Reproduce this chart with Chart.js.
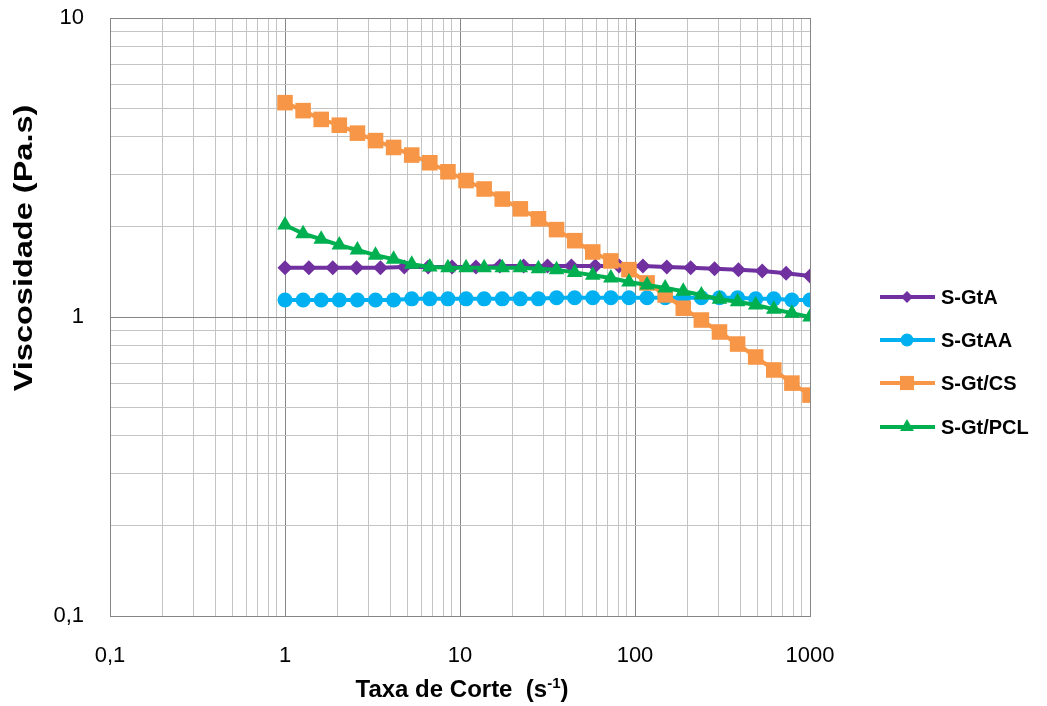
<!DOCTYPE html>
<html><head><meta charset="utf-8">
<script src="https://cdn.jsdelivr.net/npm/chart.js@4.4.1/dist/chart.umd.min.js"></script>
<style>html,body{margin:0;padding:0;background:#fff;}#wrap{width:1047px;height:706px;}</style>
</head><body><div id="wrap"><canvas id="c" width="1047" height="706"></canvas></div>
<script>
// ---- data ----
const seriesNames = ['S-GtA', 'S-GtAA', 'S-Gt/CS', 'S-Gt/PCL'];
const shearRateA = [1, 1.369, 1.874, 2.565, 3.511, 4.806, 6.579, 9.006, 12.33, 16.88, 23.10, 31.62, 43.29, 59.25, 81.11, 111.0, 152.0, 208.1, 284.8, 389.9, 533.7, 730.5, 1000];
const shearRate = [1, 1.269, 1.610, 2.043, 2.593, 3.290, 4.175, 5.298, 6.723, 8.532, 10.83, 13.74, 17.43, 22.12, 28.07, 35.62, 45.20, 57.36, 72.79, 92.37, 117.2, 148.7, 188.7, 239.5, 303.9, 385.7, 489.4, 621.0, 788.0, 1000];
const viscGtA = [1.46, 1.46, 1.46, 1.46, 1.46, 1.47, 1.47, 1.47, 1.47, 1.48, 1.48, 1.48, 1.48, 1.48, 1.48, 1.48, 1.47, 1.46, 1.45, 1.44, 1.425, 1.40, 1.37];
const viscGtAA = [1.14, 1.14, 1.14, 1.14, 1.14, 1.14, 1.14, 1.15, 1.15, 1.15, 1.15, 1.15, 1.15, 1.15, 1.15, 1.16, 1.16, 1.16, 1.16, 1.16, 1.16, 1.16, 1.16, 1.16, 1.16, 1.16, 1.15, 1.15, 1.14, 1.14];
const viscGtCS = [5.21, 4.90, 4.58, 4.38, 4.12, 3.89, 3.69, 3.48, 3.28, 3.06, 2.86, 2.68, 2.48, 2.30, 2.13, 1.96, 1.80, 1.65, 1.54, 1.44, 1.30, 1.185, 1.07, 0.977, 0.891, 0.812, 0.735, 0.665, 0.601, 0.548];
const viscGtPCL = [2.03, 1.90, 1.82, 1.74, 1.675, 1.61, 1.56, 1.50, 1.47, 1.46, 1.46, 1.46, 1.46, 1.46, 1.45, 1.44, 1.41, 1.38, 1.35, 1.31, 1.28, 1.25, 1.22, 1.185, 1.146, 1.125, 1.097, 1.061, 1.03, 1.0];
const xTickValues = [0.1, 1, 10, 100, 1000];
const xTickLabels = ['0,1', '1', '10', '100', '1000'];
const yTickValues = [0.1, 1, 10];
const yTickLabels = ['0,1', '1', '10'];
const xTitle = ['Taxa de Corte  (s', '-1', ')'];
const yTitle = 'Viscosidade (Pa.s)';

// ---- styling ----
const colors = ['#7030A0', '#00B0F0', '#F79646', '#00B050'];
const pointStyles = ['rectRot', 'circle', 'rect', 'triangle'];
const pointRadii = [7.5, 7.5, 11, 9];
const FONT = '"Liberation Sans", Arial, sans-serif';

function pairs(xs, ys) { return ys.map((y, i) => ({ x: xs[i], y: y })); }
function logGrid(min, max) {
  const out = [];
  for (let k = Math.round(Math.log10(min)); k < Math.round(Math.log10(max)); k++) {
    for (let m = 1; m <= 9; m++) out.push(Number((m * Math.pow(10, k)).toPrecision(6)));
  }
  out.push(max);
  return out;
}
function findIdx(arr, v) { return arr.findIndex(a => Math.abs(a - v) < 1e-6 * Math.max(1, a)); }
function isMajor(v) { const l = Math.log10(v); return Math.abs(l - Math.round(l)) < 1e-6; }

const xsList = [shearRateA, shearRate, shearRate, shearRate];
const ysList = [viscGtA, viscGtAA, viscGtCS, viscGtPCL];
const datasets = seriesNames.map((n, i) => ({
  label: n,
  data: pairs(xsList[i], ysList[i]),
  borderColor: colors[i],
  backgroundColor: colors[i],
  borderWidth: 4,
  pointStyle: pointStyles[i],
  pointRadius: pointRadii[i],
  pointBorderWidth: 0,
  pointBackgroundColor: colors[i],
  pointBorderColor: colors[i],
  tension: 0,
  order: 3 - i
}));

function drawMarker(ctx, style, x, y, r, color) {
  ctx.fillStyle = color;
  ctx.beginPath();
  if (style === 'circle') { ctx.arc(x, y, r, 0, Math.PI * 2); }
  else if (style === 'rect') { const s = r * Math.SQRT1_2; ctx.rect(x - s, y - s, 2 * s, 2 * s); }
  else if (style === 'rectRot') { ctx.moveTo(x - r, y); ctx.lineTo(x, y - r); ctx.lineTo(x + r, y); ctx.lineTo(x, y + r); ctx.closePath(); }
  else if (style === 'triangle') {
    let a = -Math.PI / 2;
    ctx.moveTo(x + Math.cos(a) * r, y + Math.sin(a) * r);
    a += 2 * Math.PI / 3; ctx.lineTo(x + Math.cos(a) * r, y + Math.sin(a) * r);
    a += 2 * Math.PI / 3; ctx.lineTo(x + Math.cos(a) * r, y + Math.sin(a) * r);
    ctx.closePath();
  }
  ctx.fill();
}

const decorPlugin = {
  id: 'decor',
  afterDraw(chart) {
    const ctx = chart.ctx;
    ctx.save();
    ctx.fillStyle = '#000';
    // y title (stretched along its length like the reference)
    ctx.font = 'bold 26px ' + FONT;
    ctx.textAlign = 'center';
    ctx.textBaseline = 'middle';
    ctx.save();
    ctx.translate(25, 248);
    ctx.rotate(-Math.PI / 2);
    ctx.scale(1.25, 1);
    ctx.fillText(yTitle, 0, 0);
    ctx.restore();
    // x title with superscript
    const mainFont = 'bold 24px ' + FONT, supFont = 'bold 15px ' + FONT;
    ctx.textAlign = 'left';
    ctx.textBaseline = 'alphabetic';
    ctx.font = mainFont; const w0 = ctx.measureText(xTitle[0]).width; const w2 = ctx.measureText(xTitle[2]).width;
    ctx.font = supFont; const w1 = ctx.measureText(xTitle[1]).width;
    let x = 462 - (w0 + w1 + w2) / 2; const base = 697;
    ctx.font = mainFont; ctx.fillText(xTitle[0], x, base); x += w0;
    ctx.font = supFont; ctx.fillText(xTitle[1], x, base - 9); x += w1;
    ctx.font = mainFont; ctx.fillText(xTitle[2], x, base);
    // legend
    const ly = [297, 340, 383, 427];
    ctx.font = 'bold 20px ' + FONT;
    ctx.textBaseline = 'middle';
    seriesNames.forEach((n, i) => {
      ctx.strokeStyle = colors[i];
      ctx.lineWidth = 4;
      ctx.beginPath(); ctx.moveTo(880, ly[i]); ctx.lineTo(935, ly[i]); ctx.stroke();
      drawMarker(ctx, pointStyles[i], 907, ly[i], [6, 6.5, 10, 8][i], colors[i]);
      ctx.fillStyle = '#000';
      ctx.fillText(n, 941, ly[i] + 1);
    });
    ctx.restore();
  }
};

new Chart(document.getElementById('c'), {
  type: 'line',
  data: { datasets: datasets },
  options: {
    responsive: false,
    devicePixelRatio: 1,
    animation: false,
    layout: { padding: { left: 0, top: 18, right: 237, bottom: 0 } },
    plugins: { legend: { display: false }, tooltip: { enabled: false } },
    scales: {
      x: {
        type: 'logarithmic', min: 0.1, max: 1000,
        afterBuildTicks: s => { s.ticks = logGrid(0.1, 1000).map(v => ({ value: v, major: isMajor(v) })); },
        afterFit: s => { s.height = 90; },
        grid: { drawTicks: false, color: c => (c.tick && isMajor(c.tick.value)) ? '#868686' : '#c4c4c4', lineWidth: 1 },
        border: { color: '#868686', width: 1 },
        ticks: {
          autoSkip: false, maxRotation: 0, padding: 27, color: '#000',
          font: { family: FONT, size: 22 },
          callback: v => { const i = findIdx(xTickValues, v); return i >= 0 ? xTickLabels[i] : ''; }
        }
      },
      y: {
        type: 'logarithmic', min: 0.1, max: 10,
        afterBuildTicks: s => { s.ticks = logGrid(0.1, 10).map(v => ({ value: v, major: isMajor(v) })); },
        afterFit: s => { s.width = 110; },
        grid: { drawTicks: true, tickLength: 22, tickColor: 'rgba(0,0,0,0)', color: c => (c.tick && isMajor(c.tick.value)) ? '#868686' : '#c4c4c4', lineWidth: 1 },
        border: { color: '#868686', width: 1 },
        ticks: {
          autoSkip: false, padding: 4, color: '#000',
          font: { family: FONT, size: 22 },
          callback: v => { const i = findIdx(yTickValues, v); return i >= 0 ? yTickLabels[i] : ''; }
        }
      }
    }
  },
  plugins: [decorPlugin]
});
</script></body></html>
